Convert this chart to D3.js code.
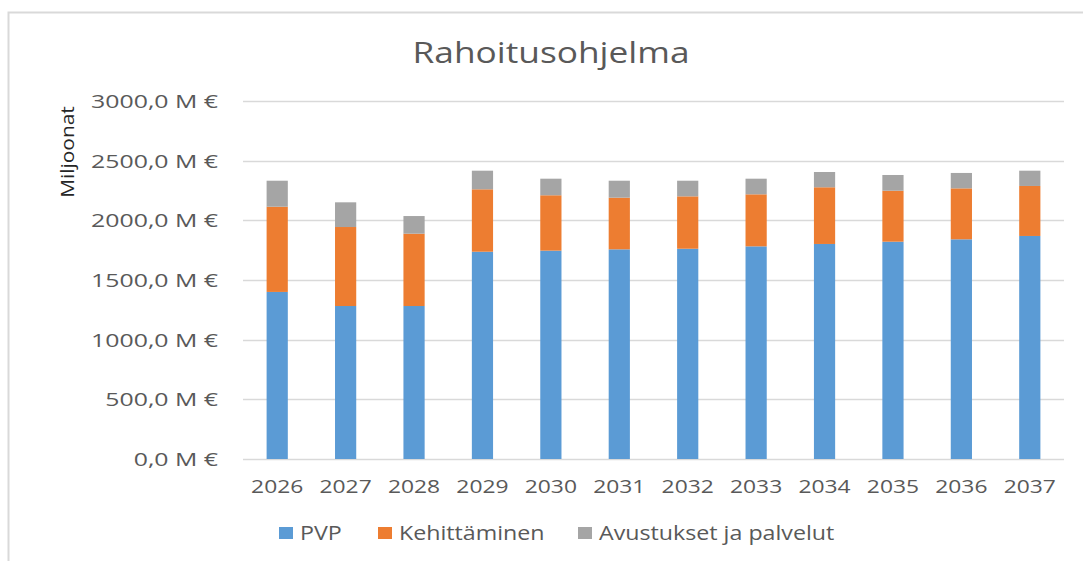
<!DOCTYPE html>
<html>
<head>
<meta charset="utf-8">
<script src="https://cdn.jsdelivr.net/npm/d3@7"></script>
<style>
  body { margin: 0; background: #fff; }
  text { font-family: "Open Sans", sans-serif; }
</style>
</head>
<body>
<div id="chart"></div>
<script>
var width = 1083,
    height = 561;

var years = ["2026", "2027", "2028", "2029", "2030", "2031", "2032", "2033", "2034", "2035", "2036", "2037"];
var seriesNames = ["PVP", "Kehittäminen", "Avustukset ja palvelut"];
var pvp = [1400, 1282, 1282, 1737, 1746, 1757, 1762, 1782, 1802, 1821, 1841, 1869];
var kehittaminen = [714, 662, 606, 523, 464, 433, 439, 436, 475, 427, 427, 419];
var avustukset = [218, 207, 148, 156, 139, 142, 131, 131, 128, 132, 129, 128];
var yTicks = [0, 500, 1000, 1500, 2000, 2500, 3000];
var colors = ["#5b9bd5", "#ed7d31", "#a5a5a5"];

var rows = years.map(function(y, i) {
  return { year: y, "PVP": pvp[i], "Kehittäminen": kehittaminen[i], "Avustukset ja palvelut": avustukset[i] };
});

var margin = { left: 243, right: 19, top: 101, bottom: 102 };

var svg = d3.select("#chart").append("svg")
    .attr("width", width)
    .attr("height", height);

// the picture is a bit wider than the font, so stretch text sideways
function stretch(sel, k) {
  sel.each(function() {
    var len = this.getComputedTextLength();
    d3.select(this)
      .attr("textLength", len * k)
      .attr("lengthAdjust", "spacingAndGlyphs");
  });
}

// chart frame
svg.append("path")
    .attr("d", "M8.5," + height + "V12.5H" + width)
    .attr("fill", "none")
    .attr("stroke", "#d9d9d9")
    .attr("stroke-width", 2);

var x = d3.scaleBand()
    .domain(years)
    .range([margin.left, width - margin.right])
    .paddingInner(0.69)
    .paddingOuter(0.345);

var y = d3.scaleLinear()
    .domain([0, 3000])
    .range([height - margin.bottom, margin.top]);

var color = d3.scaleOrdinal().domain(seriesNames).range(colors);

// gridlines
svg.append("g")
    .selectAll("line")
    .data(yTicks)
    .enter().append("line")
    .attr("x1", margin.left)
    .attr("x2", width - margin.right)
    .attr("y1", function(d) { return Math.round(y(d)) + 0.5; })
    .attr("y2", function(d) { return Math.round(y(d)) + 0.5; })
    .attr("stroke", "#d9d9d9")
    .attr("stroke-width", 1.5);

// y tick labels
svg.append("g")
    .selectAll("text")
    .data(yTicks)
    .enter().append("text")
    .attr("x", 218)
    .attr("y", function(d) { return y(d) + 7; })
    .attr("text-anchor", "end")
    .attr("fill", "#595959")
    .style("font-size", "18px")
    .text(function(d) { return d3.format(".1f")(d).replace(".", ",") + " M \u20ac"; })
    .call(stretch, 1.38);

var stack = d3.stack().keys(seriesNames);

svg.append("g")
    .selectAll("g")
    .data(stack(rows))
    .enter().append("g")
    .attr("fill", function(d) { return color(d.key); })
    .selectAll("rect")
    .data(function(d) { return d; })
    .enter().append("rect")
    .attr("x", function(d) { return x(d.data.year); })
    .attr("y", function(d) { return y(d[1]); })
    .attr("width", x.bandwidth())
    .attr("height", function(d) { return y(d[0]) - y(d[1]); });

// x labels
svg.append("g")
    .selectAll("text")
    .data(years)
    .enter().append("text")
    .attr("x", function(d) { return x(d) + x.bandwidth() / 2; })
    .attr("y", 493)
    .attr("text-anchor", "middle")
    .attr("fill", "#595959")
    .style("font-size", "19px")
    .text(String)
    .call(stretch, 1.2);

// title
svg.append("text")
    .attr("x", 551)
    .attr("y", 63)
    .attr("text-anchor", "middle")
    .attr("fill", "#595959")
    .style("font-size", "29px")
    .text("Rahoitusohjelma")
    .call(function(t) {
      t.attr("textLength", 277).attr("lengthAdjust", "spacingAndGlyphs");
    });

// y axis title
svg.append("text")
    .attr("transform", "translate(74,152)rotate(-90)")
    .attr("text-anchor", "middle")
    .attr("fill", "#262626")
    .style("font-size", "19px")
    .text("Miljoonat")
    .call(stretch, 1.1);

// legend
var legendX = [279, 378, 578];
var legend = svg.append("g")
    .selectAll("g")
    .data(seriesNames)
    .enter().append("g")
    .attr("transform", function(d, i) { return "translate(" + legendX[i] + ",527)"; });

legend.append("rect")
    .attr("width", 14)
    .attr("height", 12)
    .attr("fill", function(d) { return color(d); });

legend.append("text")
    .attr("x", 21)
    .attr("y", 13)
    .attr("fill", "#595959")
    .style("font-size", "20px")
    .text(String)
    .call(stretch, 1.16);
</script>
</body>
</html>
